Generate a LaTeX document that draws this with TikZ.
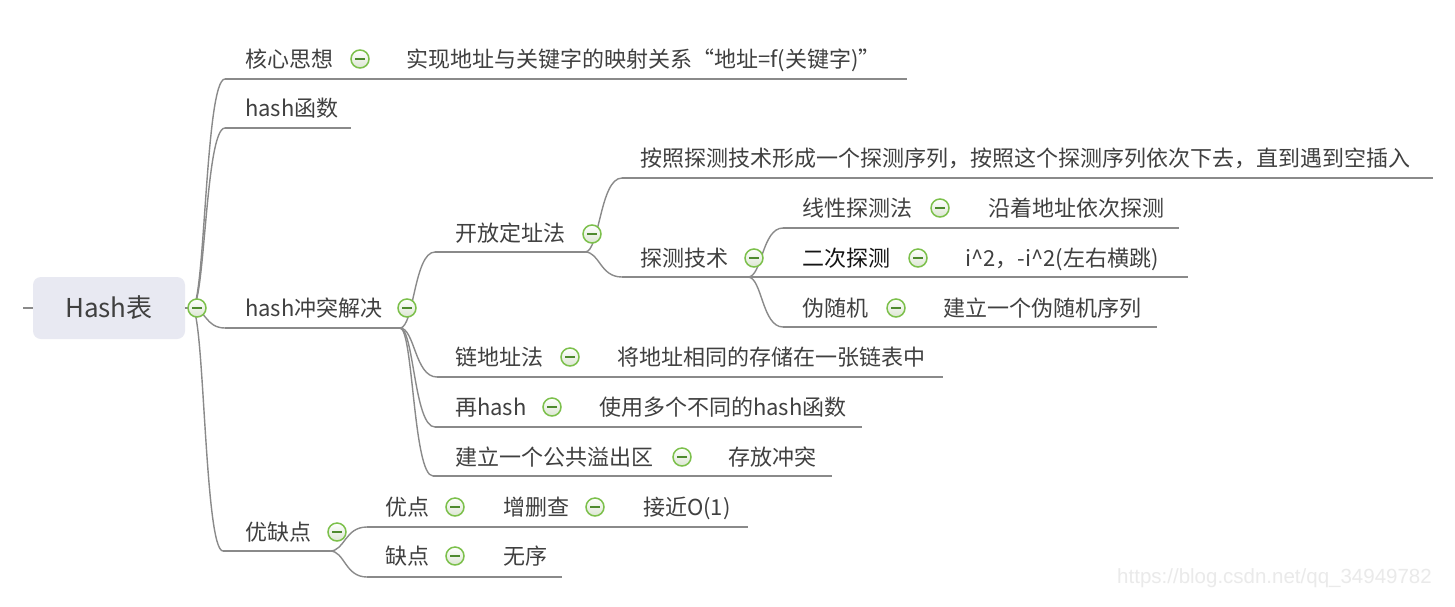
\documentclass[tikz,border=0pt]{standalone}
\usepackage{fontspec}
\setmainfont{Noto Sans CJK SC}
\newfontfamily\wmfont{Liberation Sans}
\usetikzlibrary{calc,shadings}
\definecolor{txtgray}{HTML}{404040}
\definecolor{txtdark}{HTML}{141414}
\definecolor{linegray}{HTML}{8A8A8A}
\definecolor{rootfill}{HTML}{E8E9F2}
\definecolor{icogreen}{HTML}{7CC04B}
\definecolor{icofill}{HTML}{DCE6D2}
\definecolor{icominus}{HTML}{4E8A2E}
\definecolor{wmgray}{HTML}{EAEAEA}
\newcommand\branch[2]{\draw[conn] (#1) .. controls ($(#1)!0.4!(#1-|#2)$) and ($(#2)!0.6!(#2-|#1)$) .. (#2);}
\begin{document}
\begin{tikzpicture}[x=1pt,y=-1pt,
  conn/.style={draw=linegray, line width=1.4pt},
  txt/.style={anchor=west, inner sep=0pt, text height=18pt, text depth=2pt, font=\fontsize{22}{26}\selectfont, text=txtgray},
  dark/.style={txt, text=txtdark},
  rootbox/.style={rounded corners=8pt, fill=rootfill, minimum width=152pt, minimum height=62pt, inner sep=0pt, text height=20pt, text depth=2pt, font=\fontsize{26}{30}\selectfont, text=txtgray},
  ico/.style={circle, minimum size=18pt, inner sep=0pt, draw=icogreen, line width=1.5pt, top color=white, bottom color=icofill,
    path picture={\draw[icominus, line width=1.7pt] ([xshift=-5pt]path picture bounding box.center) -- ([xshift=5pt]path picture bounding box.center);}},
  wm/.style={anchor=west, inner sep=0pt, font=\wmfont\fontsize{20.5}{24}\selectfont, text=wmgray}
]
\useasboundingbox (0,0) rectangle (1455,606);
\fill[white] (0,0) rectangle (1455,606);

% ---------- coordinates ----------
\coordinate (stub) at (23,308);
\coordinate (r0) at (192,308);
\coordinate (b1) at (225,79);   \coordinate (e1) at (907,79);
\coordinate (b2) at (225,128);  \coordinate (e2) at (351,128);
\coordinate (b3) at (225,328);  \coordinate (e3) at (400,328);
\coordinate (b4) at (223,551);  \coordinate (e4) at (330,551);
\coordinate (b31) at (435,252); \coordinate (e31) at (585,252);
\coordinate (b32) at (437,377); \coordinate (e32) at (943,377);
\coordinate (b33) at (435,427); \coordinate (e33) at (862,427);
\coordinate (b34) at (433,476); \coordinate (e34) at (832,476);
\coordinate (b311) at (622,178); \coordinate (e311) at (1433,178);
\coordinate (b312) at (622,277); \coordinate (e312) at (748,277);
\coordinate (b3121) at (783,228); \coordinate (e3121) at (1179,228);
\coordinate (e3122) at (1188,277);
\coordinate (b3123) at (783,327); \coordinate (e3123) at (1157,327);
\coordinate (b41) at (367,527); \coordinate (e41) at (748,527);
\coordinate (b42) at (367,577); \coordinate (e42) at (562,577);

% ---------- root ----------
\node[rootbox] (root) at (109,308) {Hash表};
\draw[conn] (stub) -- (root.west);
\draw[conn] (root.east) -- (r0);

% ---------- connectors ----------
\branch{r0}{b1} \draw[conn] (b1) -- (e1);
\branch{r0}{b2} \draw[conn] (b2) -- (e2);
\branch{r0}{b3} \draw[conn] (b3) -- (e3);
\branch{r0}{b4} \draw[conn] (b4) -- (e4);
\branch{e3}{b31} \draw[conn] (b31) -- (e31);
\branch{e3}{b32} \draw[conn] (b32) -- (e32);
\branch{e3}{b33} \draw[conn] (b33) -- (e33);
\branch{e3}{b34} \draw[conn] (b34) -- (e34);
\branch{e31}{b311} \draw[conn] (b311) -- (e311);
\branch{e31}{b312} \draw[conn] (b312) -- (e312);
\branch{e312}{b3121} \draw[conn] (b3121) -- (e3121);
\draw[conn] (e312) -- (e3122);
\branch{e312}{b3123} \draw[conn] (b3123) -- (e3123);
\branch{e4}{b41} \draw[conn] (b41) -- (e41);
\branch{e4}{b42} \draw[conn] (b42) -- (e42);

% ---------- icons ----------
\node[ico] (ir) at (197,308) {};
\node[ico] (i1) at (360,59) {};
\node[ico] (i3) at (407,308) {};
\node[ico] (i4) at (337,532) {};
\node[ico] (i31) at (592,234) {};
\node[ico] (i32) at (570,357) {};
\node[ico] (i33) at (552,407) {};
\node[ico] (i34) at (682,457) {};
\node[ico] (i312) at (754,258) {};
\node[ico] (i3121) at (940,208) {};
\node[ico] (i3122) at (918,258) {};
\node[ico] (i3123) at (896,308) {};
\node[ico] (i41) at (455,507) {};
\node[ico] (i411) at (595,507) {};
\node[ico] (i42) at (455,556) {};

% ---------- texts ----------
\node[txt] (n1) at (245,59) {核心思想};
\node[txt] (n1c) at (406,59) {实现地址与关键字的映射关系“地址=f(关键字)”};
\node[txt] (n2) at (245,108) {hash函数};
\node[txt] (n3) at (245,308) {hash冲突解决};
\node[txt] (n4) at (245,532) {优缺点};
\node[txt] (n31) at (455,233) {开放定址法};
\node[txt] (n32) at (455,357) {链地址法};
\node[txt] (n32c) at (617,357) {将地址相同的存储在一张链表中};
\node[txt] (n33) at (455,407) {再hash};
\node[txt] (n33c) at (599,407) {使用多个不同的hash函数};
\node[txt] (n34) at (455,457) {建立一个公共溢出区};
\node[txt] (n34c) at (728,457) {存放冲突};
\node[txt] (n311) at (640,158) {按照探测技术形成一个探测序列，按照这个探测序列依次下去，直到遇到空插入};
\node[txt] (n312) at (640,258) {探测技术};
\node[txt] (n3121) at (802,208) {线性探测法};
\node[txt] (n3121c) at (988,208) {沿着地址依次探测};
\node[dark] (n3122) at (802,258) {二次探测};
\node[txt] (n3122c) at (965,258) {i\textasciicircum 2，-i\textasciicircum 2(左右横跳)};
\node[txt] (n3123) at (802,308) {伪随机};
\node[txt] (n3123c) at (943,308) {建立一个伪随机序列};
\node[txt] (n41) at (385,507) {优点};
\node[txt] (n411) at (503,507) {增删查};
\node[txt] (n411c) at (643,507) {接近O(1)};
\node[txt] (n42) at (385,556) {缺点};
\node[txt] (n42c) at (503,556) {无序};

\node[wm] (wm) at (1117,578) {https://blog.csdn.net/qq\_34949782};
\end{tikzpicture}
\end{document}
